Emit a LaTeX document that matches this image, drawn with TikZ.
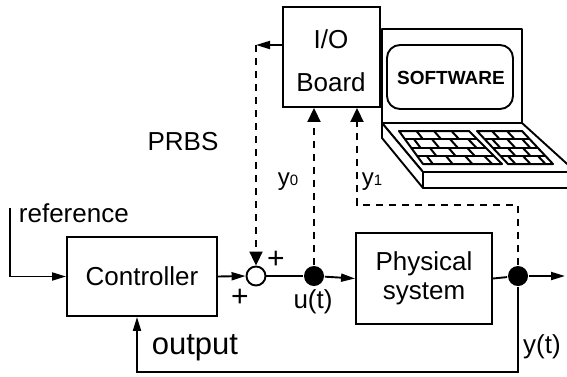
\documentclass[tikz,border=0pt]{standalone}
\usepackage{fontspec}
\setmainfont{Liberation Sans}
\usetikzlibrary{arrows.meta,calc}

\tikzset{
  every node/.style={font=\fontsize{26}{30}\selectfont, inner sep=0pt},
  block/.style={draw, line width=1.9pt, fill=white},
  dsh/.style={dash pattern=on 7pt off 6pt},
  arr/.style={-{Triangle[length=14pt,width=8pt]}},
  bigarr/.style={-{Triangle[length=14pt,width=13pt]}},
  dot/.style={circle, fill=black, minimum size=20pt},
  sumnode/.style={circle, draw, fill=white, line width=1.9pt, minimum size=19pt},
  keyline/.style={line width=2pt, line join=round},
}

% small subscript digit on the baseline
\newcommand\lowdigit[1]{{\fontsize{15}{15}\selectfont #1}}

\begin{document}
\begin{tikzpicture}[x=1pt, y=-1pt, line width=1.9pt]
\useasboundingbox (0,0) rectangle (567,376);
\clip (0,0) rectangle (567,376);

% ---------- laptop ----------
\begin{scope}[line width=1.9pt, line join=round]
  % base: top face, front face and left side
  \draw[fill=white] (382,123) -- (522,123) -- (576,172) -- (423,172) -- cycle;
  \draw[fill=white] (423,172) -- (576,172) -- (576,188) -- (423,188) -- cycle;
  \draw[fill=white] (382,123) -- (382,138) -- (423,188) -- (423,172) -- cycle;
  % screen
  \draw[fill=white] (382,29) rectangle (522,123);
  \draw[rounded corners=13pt] (387,45) rectangle (513,109);
\end{scope}
\node[font=\fontsize{19}{22}\selectfont\bfseries] (sw) at (451,78) {SOFTWARE};

% keyboards (trapezoids with staggered key rows)
\coordinate (kaTL) at (399,131); \coordinate (kaTR) at (469,131);
\coordinate (kaBL) at (423,164); \coordinate (kaBR) at (502,164);
\coordinate (kbTL) at (477,131); \coordinate (kbTR) at (522,131);
\coordinate (kbBL) at (508,164); \coordinate (kbBR) at (553,164);

\draw[keyline, fill=white] (kaTL) -- (kaTR) -- (kaBR) -- (kaBL) -- cycle;
\draw[keyline, fill=white] (kbTL) -- (kbTR) -- (kbBR) -- (kbBL) -- cycle;
\foreach \v in {0.25,0.5,0.75} {
  \draw[keyline] ($(kaTL)!\v!(kaBL)$) -- ($(kaTR)!\v!(kaBR)$);
  \draw[keyline] ($(kbTL)!\v!(kbBL)$) -- ($(kbTR)!\v!(kbBR)$);
}
\foreach \r/\u in {0/0.25,0/0.5,0/0.75,
                   1/0.125,1/0.375,1/0.625,1/0.875,
                   2/0.25,2/0.5,2/0.75,
                   3/0.125,3/0.375,3/0.625,3/0.875} {
  \pgfmathsetmacro\va{\r/4}
  \pgfmathsetmacro\vb{(\r+1)/4}
  \draw[keyline] ($ ($(kaTL)!\va!(kaBL)$)!\u!($(kaTR)!\va!(kaBR)$) $)
              -- ($ ($(kaTL)!\vb!(kaBL)$)!\u!($(kaTR)!\vb!(kaBR)$) $);
}
\foreach \r/\u in {0/0.3333,0/0.6667,
                   1/0.1667,1/0.5,1/0.8333,
                   2/0.3333,2/0.6667,
                   3/0.1667,3/0.5,3/0.8333} {
  \pgfmathsetmacro\va{\r/4}
  \pgfmathsetmacro\vb{(\r+1)/4}
  \draw[keyline] ($ ($(kbTL)!\va!(kbBL)$)!\u!($(kbTR)!\va!(kbBR)$) $)
              -- ($ ($(kbTL)!\vb!(kbBL)$)!\u!($(kbTR)!\vb!(kbBR)$) $);
}

% ---------- blocks ----------
\node[block, minimum width=97pt, minimum height=100pt] (io) at (331.5,57) {};
\node (iot) at (331,39) {I/O};
\node (iob) at (331,82) {Board};

\node[block, minimum width=150pt, minimum height=79pt] (ctrl) at (142,276.5) {Controller};
\node[block, minimum width=136pt, minimum height=91pt, align=center,
      font=\fontsize{26}{29}\selectfont] (phys) at (424,278.5) {Physical\\system};

\node[sumnode] (sum) at (256,276) {};
\node[dot] (du) at (314,276) {};
\node[dot] (dy) at (518,276) {};

\coordinate (refstart) at (10,208);
\coordinate (outend) at (565,276);
\coordinate (fbl) at (137,372);
\coordinate (tapL) at (256,45);
\coordinate (y1c) at (357,205);

% ---------- signal flow ----------
\draw[arr] (refstart) |- (ctrl.west);
\draw[arr] (ctrl.east) -- (sum.west);
\draw (sum.east) -- (du);
\draw[arr] (du) -- (phys.west);
\draw (phys.east) -- (dy);
\draw[arr] (dy) -- (outend);
\draw[arr] (dy) |- (fbl) -- (fbl |- ctrl.south);

% ---------- I/O board signals ----------
\draw[arr] (io.west |- tapL) -- (tapL);
\draw[dsh, bigarr] (tapL) -- (sum.north);
\draw[dsh, bigarr] (du) -- (du |- io.south);
\draw[dsh, bigarr] (dy) |- (y1c) -- (y1c |- io.south);

% ---------- labels ----------
\node[anchor=base west] (reflab) at (18,222) {reference};
\node (prbs) at (183,142) {PRBS};
\node[font=\fontsize{24}{28}\selectfont] (y0lab) at (288,182) {y\lowdigit{0}};
\node[font=\fontsize{24}{28}\selectfont] (y1lab) at (372,182) {y\lowdigit{1}};
\node[font=\fontsize{30}{34}\selectfont] (plusa) at (276,260) {+};
\node[font=\fontsize{30}{34}\selectfont] (plusb) at (240,298) {+};
\node (ulab) at (313,302) {u(t)};
\node (ylab) at (542,347) {y(t)};
\node[font=\fontsize{31}{36}\selectfont] (outlab) at (195,348) {output};
\end{tikzpicture}
\end{document}
